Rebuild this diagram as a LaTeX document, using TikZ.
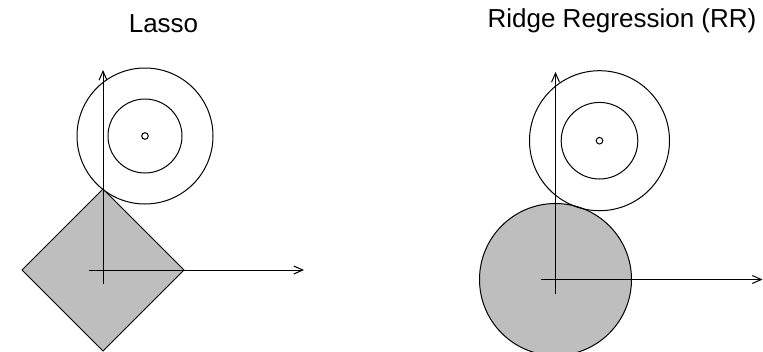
\documentclass[tikz,border=0pt]{standalone}
\usepackage{fontspec}
\setmainfont{Liberation Sans}
\usetikzlibrary{arrows.meta}
\definecolor{regionfill}{HTML}{BEBEBE}
\tikzset{
  axis/.style={line width=1pt, -{Straight Barb[length=9pt,width=8pt,line width=1pt]}},
  contour/.style={line width=1pt},
  region/.style={line width=1pt, fill=regionfill},
  title/.style={anchor=base, inner sep=0pt, font=\fontsize{26}{30}\selectfont}
}
\begin{document}
\begin{tikzpicture}[x=1pt, y=-1pt]
\useasboundingbox (0,0) rectangle (763,351);
% ---------- Lasso ----------
\coordinate (lo) at (103,270);
\coordinate (lc) at (145,136);
\coordinate (lxs) at (89,270);
\coordinate (lxe) at (304,270);
\coordinate (lys) at (103,284);
\coordinate (lye) at (103,70);
\draw[region] (103,189) -- (184,270) -- (103,351) -- (22,270) -- cycle;
\draw[axis] (lxs) -- (lxe);
\draw[axis] (lys) -- (lye);
\draw[contour] (lc) circle[radius=68];
\draw[contour] (lc) circle[radius=37];
\draw[contour] (lc) circle[radius=3.3];
\node[title] (lassotitle) at (163.5,32) {Lasso};
% ---------- Ridge ----------
\coordinate (ro) at (555.5,279.5);
\coordinate (rc) at (599.5,140.7);
\coordinate (rxs) at (541,279.5);
\coordinate (rxe) at (762.5,279.5);
\coordinate (rys) at (555.5,294);
\coordinate (rye) at (555.5,72);
\draw[region] (ro) circle[radius=76];
\draw[axis] (rxs) -- (rxe);
\draw[axis] (rys) -- (rye);
\draw[contour] (rc) circle[radius=70];
\draw[contour] (rc) circle[radius=38.3];
\draw[contour] (rc) circle[radius=3.3];
\node[title] (ridgetitle) at (622,27) {Ridge Regression (RR)};
\end{tikzpicture}
\end{document}
